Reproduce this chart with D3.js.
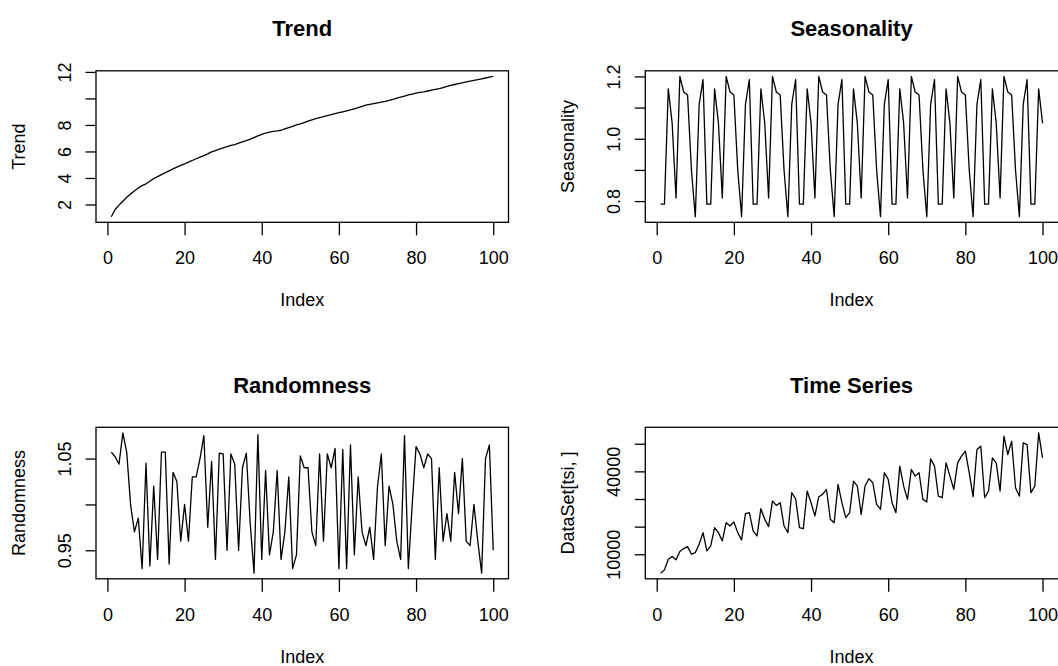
<!DOCTYPE html>
<html>
<head>
<meta charset="utf-8">
<script src="https://cdn.jsdelivr.net/npm/d3@7"></script>
<style>
body { margin: 0; background: #fff; }
svg text { font-family: "Liberation Sans", Arial, sans-serif; fill: #000; }
</style>
</head>
<body>
<div id="chart"></div>
<script>
// x positions 1..100
const index = d3.range(1, 101);

const trend = [
    1.08, 1.62, 1.95, 2.25, 2.55, 2.80, 3.02, 3.25, 3.42, 3.56,
    3.75, 3.95, 4.10, 4.25, 4.40, 4.54, 4.68, 4.82, 4.95, 5.07,
    5.20, 5.32, 5.45, 5.57, 5.69, 5.82, 5.97, 6.07, 6.17, 6.27,
    6.36, 6.45, 6.52, 6.62, 6.72, 6.82, 6.93, 7.05, 7.17, 7.29,
    7.38, 7.46, 7.52, 7.55, 7.60, 7.70, 7.80, 7.90, 8.00, 8.08,
    8.18, 8.28, 8.38, 8.48, 8.55, 8.62, 8.70, 8.77, 8.85, 8.92,
    8.99, 9.06, 9.13, 9.22, 9.31, 9.40, 9.49, 9.55, 9.61, 9.67,
    9.72, 9.78, 9.85, 9.93, 10.02, 10.10, 10.18, 10.26, 10.33, 10.40,
    10.45, 10.50, 10.56, 10.62, 10.68, 10.74, 10.82, 10.90, 10.98, 11.05,
    11.12, 11.18, 11.24, 11.30, 11.36, 11.42, 11.48, 11.54, 11.60, 11.66
];

const seasonality = [
    0.79, 0.79, 1.16, 1.05, 0.81, 1.20, 1.15, 1.14, 0.90, 0.75, 1.11, 1.19,
    0.79, 0.79, 1.16, 1.05, 0.81, 1.20, 1.15, 1.14, 0.90, 0.75, 1.11, 1.19,
    0.79, 0.79, 1.16, 1.05, 0.81, 1.20, 1.15, 1.14, 0.90, 0.75, 1.11, 1.19,
    0.79, 0.79, 1.16, 1.05, 0.81, 1.20, 1.15, 1.14, 0.90, 0.75, 1.11, 1.19,
    0.79, 0.79, 1.16, 1.05, 0.81, 1.20, 1.15, 1.14, 0.90, 0.75, 1.11, 1.19,
    0.79, 0.79, 1.16, 1.05, 0.81, 1.20, 1.15, 1.14, 0.90, 0.75, 1.11, 1.19,
    0.79, 0.79, 1.16, 1.05, 0.81, 1.20, 1.15, 1.14, 0.90, 0.75, 1.11, 1.19,
    0.79, 0.79, 1.16, 1.05, 0.81, 1.20, 1.15, 1.14, 0.90, 0.75, 1.11, 1.19,
    0.79, 0.79, 1.16, 1.05
];

const randomness = [
    1.057, 1.052, 1.044, 1.078, 1.057, 1.000, 0.970, 0.985, 0.930, 1.045,
    0.933, 1.020, 0.940, 1.057, 1.057, 0.935, 1.035, 1.025, 0.960, 1.000,
    0.960, 1.030, 1.030, 1.050, 1.075, 0.975, 1.047, 0.940, 1.056, 1.055,
    0.950, 1.055, 1.044, 0.950, 1.040, 1.056, 0.980, 0.925, 1.076, 0.940,
    1.037, 0.945, 0.970, 1.037, 0.940, 0.970, 1.030, 0.930, 0.945, 1.053,
    1.040, 1.040, 0.970, 0.955, 1.055, 0.960, 1.055, 1.040, 1.061, 0.930,
    1.060, 0.930, 1.065, 0.945, 1.030, 0.970, 0.955, 0.975, 0.940, 1.019,
    1.055, 0.955, 1.020, 1.000, 0.960, 0.940, 1.075, 0.930, 1.000, 1.063,
    1.055, 1.040, 1.055, 1.050, 0.940, 1.040, 0.960, 0.990, 0.960, 1.035,
    0.990, 1.050, 0.960, 0.955, 1.000, 0.960, 0.925, 1.050, 1.065, 0.950
];

const timeSeries = [
    3150, 4350, 8200, 9150, 8000, 11000, 12050, 12770, 10000, 10600,
    13600, 17830, 11200, 13000, 19640, 17830, 14830, 21440, 20240, 21680,
    17830, 15190, 24690, 25050, 18430, 16630, 26500, 22640, 20000, 29260,
    27700, 28660, 20240, 17830, 32270, 30100, 19640, 19280, 32870, 28660,
    23850, 30820, 31660, 33470, 22640, 21440, 35280, 28660, 23250, 25050,
    36480, 34680, 24450, 34680, 37320, 35880, 28060, 26250, 39500, 37080,
    28660, 25050, 41890, 34680, 29860, 40690, 38280, 39490, 29860, 28900,
    44540, 41890, 31070, 30470, 43100, 38280, 33470, 43100, 45500, 47300,
    39490, 30830, 47900, 49100, 30470, 32870, 44900, 43100, 32870, 52720,
    46100, 50900, 34070, 31070, 50310, 49710, 32270, 34680, 53920, 44900
];

const xTicks = [0, 20, 40, 60, 80, 100];
const trendTicks = [2, 4, 6, 8, 10, 12];
const trendLabels = ["2", "4", "6", "8", "", "12"];
const seasonTicks = [0.8, 0.9, 1.0, 1.1, 1.2];
const seasonLabels = ["0.8", "", "1.0", "", "1.2"];
const randomTicks = [0.95, 1.00, 1.05];
const randomLabels = ["0.95", "", "1.05"];
const seriesTicks = [10000, 20000, 30000, 40000, 50000];
const seriesLabels = ["10000", "", "", "40000", ""];

const width = 1058, height = 666;
const boxH = 151.5;

const svg = d3.select("#chart")
    .append("svg")
    .attr("width", width)
    .attr("height", height);

const panels = [
    { title: "Trend", ylab: "Trend", values: trend, ticks: trendTicks, labels: trendLabels, left: 96, w: 412.5, top: 70.8 },
    { title: "Seasonality", ylab: "Seasonality", values: seasonality, ticks: seasonTicks, labels: seasonLabels, left: 645.3, w: 413.7, top: 70.8 },
    { title: "Randomness", ylab: "Randomness", values: randomness, ticks: randomTicks, labels: randomLabels, left: 96, w: 412.5, top: 427.3 },
    { title: "Time Series", ylab: "DataSet[tsi, ]", values: timeSeries, ticks: seriesTicks, labels: seriesLabels, left: 645.3, w: 413.7, top: 427.3 }
];

// R style axis range: data range extended by 4% on each side
function pad(ext) {
    const d = (ext[1] - ext[0]) * 0.04;
    return [ext[0] - d, ext[1] + d];
}

panels.forEach(drawPanel);

function drawPanel(p) {
    const x = d3.scaleLinear().domain(pad(d3.extent(index))).range([p.left, p.left + 412.5]);
    const y = d3.scaleLinear().domain(pad(d3.extent(p.values))).range([p.top + boxH, p.top]);
    const g = svg.append("g");

    g.append("path")
        .datum(p.values)
        .attr("fill", "none")
        .attr("stroke", "#000")
        .attr("stroke-width", 1.3)
        .attr("stroke-linejoin", "round")
        .attr("d", d3.line().x((d, i) => x(index[i])).y(d => y(d)));

    g.append("rect")
        .attr("x", p.left)
        .attr("y", p.top)
        .attr("width", p.w)
        .attr("height", boxH)
        .attr("fill", "none")
        .attr("stroke", "#000")
        .attr("stroke-width", 1.3);

    const xAxis = g.append("g")
        .attr("transform", "translate(0," + (p.top + boxH) + ")")
        .call(d3.axisBottom(x).tickValues(xTicks).tickSize(13).tickFormat(d3.format("d")));
    xAxis.select(".domain").remove();
    xAxis.selectAll("line").attr("stroke-width", 1.3);
    xAxis.selectAll("text")
        .attr("y", 41.8)
        .attr("dy", 0)
        .style("font-size", "18px");

    const yAxis = g.append("g")
        .attr("transform", "translate(" + p.left + ",0)")
        .call(d3.axisLeft(y).tickValues(p.ticks).tickSize(10.5).tickFormat((d, i) => p.labels[i]));
    yAxis.select(".domain").remove();
    yAxis.selectAll("line").attr("stroke-width", 1.3);
    yAxis.selectAll("text")
        .attr("transform", "rotate(-90)")
        .attr("x", 0)
        .attr("y", -25)
        .attr("dy", 0)
        .attr("text-anchor", "middle")
        .style("font-size", "18px");

    g.append("text")
        .attr("x", p.left + 412.5 / 2)
        .attr("y", p.top - 34.8)
        .attr("text-anchor", "middle")
        .attr("font-weight", "bold")
        .style("font-size", "22px")
        .text(p.title);

    g.append("text")
        .attr("x", p.left + 412.5 / 2)
        .attr("y", p.top + boxH + 84)
        .attr("text-anchor", "middle")
        .style("font-size", "18px")
        .text("Index");

    g.append("text")
        .attr("transform", "translate(" + (p.left - 71) + "," + (p.top + boxH / 2) + ") rotate(-90)")
        .attr("text-anchor", "middle")
        .style("font-size", "18px")
        .text(p.ylab);
}
</script>
</body>
</html>
